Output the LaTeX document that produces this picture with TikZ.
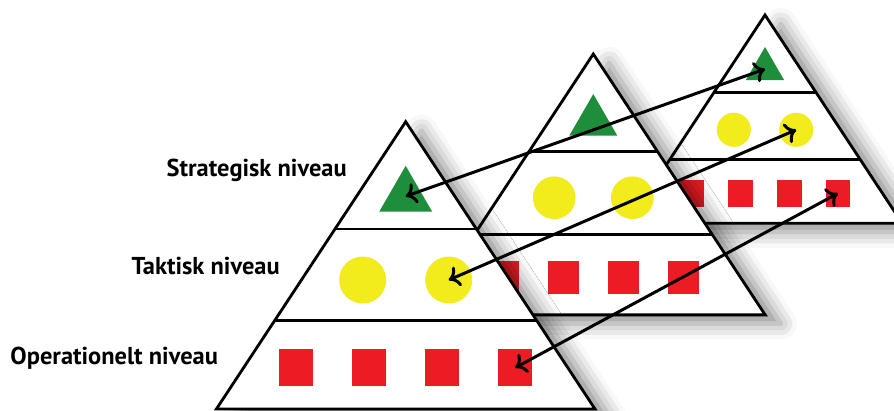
\documentclass[tikz,border=0pt]{standalone}
\usepackage{fontspec}
\setmainfont{PT Sans}
\usetikzlibrary{shapes.geometric, arrows.meta, shadows.blur}
\definecolor{leafcolor}{HTML}{1E8E3A}
\definecolor{lemoncolor}{HTML}{F2EC1C}
\definecolor{scarletcolor}{HTML}{EC1C24}

\begin{document}
\begin{tikzpicture}[x=0.02cm, y=-0.02cm,
  pyr/.style={draw=black, line width=1.6pt, fill=white,
    blur shadow={shadow xshift=9pt, shadow yshift=-5pt, shadow blur radius=9pt, shadow opacity=45}},
  tier/.style={draw=black, line width=1.6pt},
  peak/.style={regular polygon, regular polygon sides=3, fill=leafcolor, inner sep=0pt, minimum size=1.22cm},
  disc/.style={circle, fill=lemoncolor, inner sep=0pt, minimum size=0.94cm},
  block/.style={rectangle, fill=scarletcolor, inner sep=0pt, minimum width=0.68cm, minimum height=0.73cm},
  link/.style={{Computer Modern Rightarrow[length=6pt,width=12pt]}-{Computer Modern Rightarrow[length=6pt,width=12pt]}, line width=1.7pt},
  lvl/.style={anchor=base east, inner sep=0pt, font=\fontsize{13.9}{16}\selectfont\bfseries}]
  \useasboundingbox (0,0) rectangle (894,410);
  % pyramids, back to front
  \foreach \n/\px/\py/\s/\d in {3/765/15/0.725/67, 2/593.3/54/0.908/66, 1/405.7/121.7/1/73} {
    \begin{scope}[shift={(\px,\py)}, scale=\s, transform shape]
      \path[pyr] (0,0) -- (189.3,287.3) -- (-189.3,287.3) -- cycle;
      \draw[tier] (-70.6,107.2) -- (70.6,107.2);
      \draw[tier] (-131.2,199.1) -- (131.2,199.1);
      \node[peak] (peak\n) at (0,74.6) {};
      \node[disc] (discA\n) at (-43,158.3) {};
      \node[disc] (discB\n) at (43,158.3) {};
      \foreach \k in {1,...,4}
        \node[block] (block\n-\k) at ({(\k-2.5)*\d},246) {};
    \end{scope}
  }
  % links between levels
  \draw[link] (peak1.center) -- (peak3.center);
  \draw[link] (discB1.center) -- (discB3.center);
  \draw[link] (block1-4.center) -- (block3-4.center);
  % level labels
  \node[lvl] (strat) at (347,176) {Strategisk niveau};
  \node[lvl] (takt) at (280,274.3) {Taktisk niveau};
  \node[lvl] (oper) at (218.3,364.3) {Operationelt niveau};
\end{tikzpicture}
\end{document}
